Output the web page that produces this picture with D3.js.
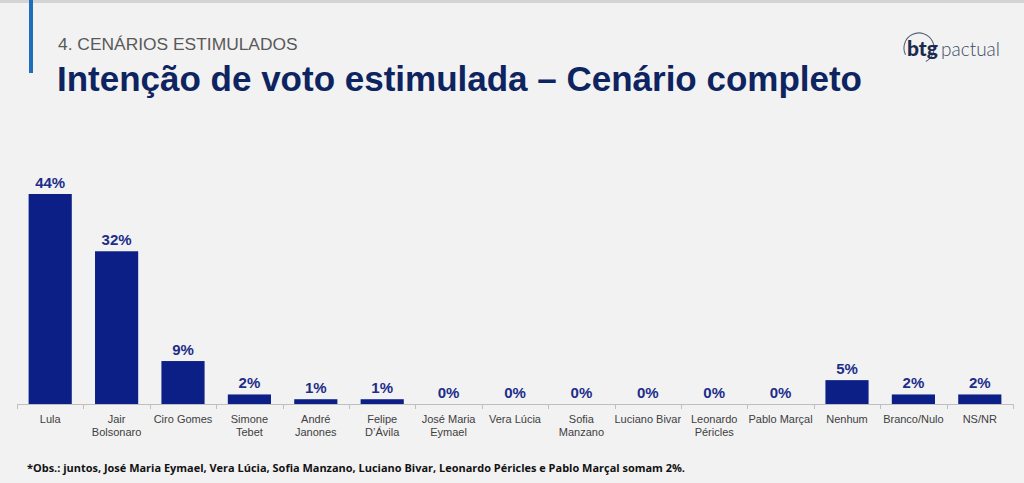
<!DOCTYPE html>
<html><head><meta charset="utf-8">
<script src="https://cdn.jsdelivr.net/npm/d3@7"></script>
<style>
html,body{margin:0;padding:0;background:#f2f2f2;}
svg{display:block;}
</style></head>
<body>
<svg id="chart" width="1024" height="483"></svg>
<script>
const categories = ["Lula","Jair\nBolsonaro","Ciro Gomes","Simone\nTebet","André\nJanones","Felipe\nD’Ávila","José Maria\nEymael","Vera Lúcia","Sofia\nManzano","Luciano Bivar","Leonardo\nPéricles","Pablo Marçal","Nenhum","Branco/Nulo","NS/NR"];
const values = [44,32,9,2,1,1,0,0,0,0,0,0,5,2,2];
const subtitle = "4. CENÁRIOS ESTIMULADOS";
const title = "Intenção de voto estimulada – Cenário completo";
const footnote = "*Obs.: juntos, José Maria Eymael, Vera Lúcia, Sofia Manzano, Luciano Bivar, Leonardo Péricles e Pablo Marçal somam 2%.";

const svg = d3.select("#chart");
svg.append("rect").attr("width",1024).attr("height",483).attr("fill","#f2f2f2");
svg.append("rect").attr("x",0).attr("y",0).attr("width",1024).attr("height",3).attr("fill","#d4d4d4");
svg.append("rect").attr("x",29).attr("y",0).attr("width",4).attr("height",73).attr("fill","#1f6dbd");

svg.append("text").attr("x",58).attr("y",50).attr("font-family","Liberation Sans, Arial, sans-serif")
  .attr("font-size",17.4).attr("fill","#595959").text(subtitle);
svg.append("text").attr("x",57).attr("y",91).attr("font-family","Liberation Sans, Arial, sans-serif")
  .attr("font-size",35).attr("font-weight","bold").attr("fill","#0e2461")
  .attr("textLength",805).attr("lengthAdjust","spacingAndGlyphs").text(title);

// logo
const logo = svg.append("g");
const arc = d3.arc().innerRadius(14.5).outerRadius(15.6).startAngle(0.35*Math.PI).endAngle(1.85*Math.PI);
logo.append("path").attr("d",arc()).attr("transform","translate(919,48) rotate(180)").attr("fill","#5a6478");
logo.append("text").attr("x",907).attr("y",56).attr("font-family","Lato, sans-serif").attr("font-weight","900")
  .attr("font-size",21).attr("fill","#1b2a4e").text("btg");
logo.append("text").attr("x",941).attr("y",56).attr("font-family","Lato, sans-serif").attr("font-weight","300")
  .attr("font-size",19).attr("fill","#3d4a66").text("pactual");

const x = d3.scaleBand().domain(categories).range([17,1013]).paddingInner(0.35).paddingOuter(0.175);
const y = d3.scaleLinear().domain([0,44]).range([404,194]);

const axis = svg.append("g");
axis.append("line").attr("x1",17).attr("x2",1013).attr("y1",404.5).attr("y2",404.5).attr("stroke","#bfbfbf");
const step = x.step();
const tickPos = d3.range(categories.length+1).map(i => 17 + i*step);
axis.selectAll("line.tick").data(tickPos).join("line").attr("class","tick")
  .attr("x1",d=>Math.round(d)+0.5).attr("x2",d=>Math.round(d)+0.5).attr("y1",404).attr("y2",409).attr("stroke","#bfbfbf");

svg.selectAll("rect.bar").data(values).join("rect").attr("class","bar")
  .attr("x",(d,i)=>x(categories[i])).attr("width",x.bandwidth())
  .attr("y",d=>y(d)).attr("height",d=>404-y(d)).attr("fill","#0c1f87");

svg.selectAll("text.val").data(values).join("text").attr("class","val")
  .attr("x",(d,i)=>x(categories[i])+x.bandwidth()/2).attr("y",d=>y(d)-6)
  .attr("text-anchor","middle").attr("font-family","Liberation Sans, Arial, sans-serif")
  .attr("font-weight","bold").attr("font-size",15).attr("fill","#1c2d8a").text(d=>d+"%");

const lab = svg.selectAll("text.cat").data(categories).join("text").attr("class","cat")
  .attr("text-anchor","middle").attr("font-family","Liberation Sans, Arial, sans-serif")
  .attr("font-size",11).attr("fill","#404040");
lab.each(function(d){
  const t = d3.select(this); const cx = x(d)+x.bandwidth()/2;
  d.split("\n").forEach((s,k)=>t.append("tspan").attr("x",cx).attr("y",423+k*13).text(s));
});

svg.append("text").attr("x",27).attr("y",472).attr("font-family","Open Sans, sans-serif")
  .attr("font-weight","bold").attr("font-size",11).attr("fill","#111")
  .attr("textLength",658).attr("lengthAdjust","spacingAndGlyphs").text(footnote);
</script>
</body></html>
